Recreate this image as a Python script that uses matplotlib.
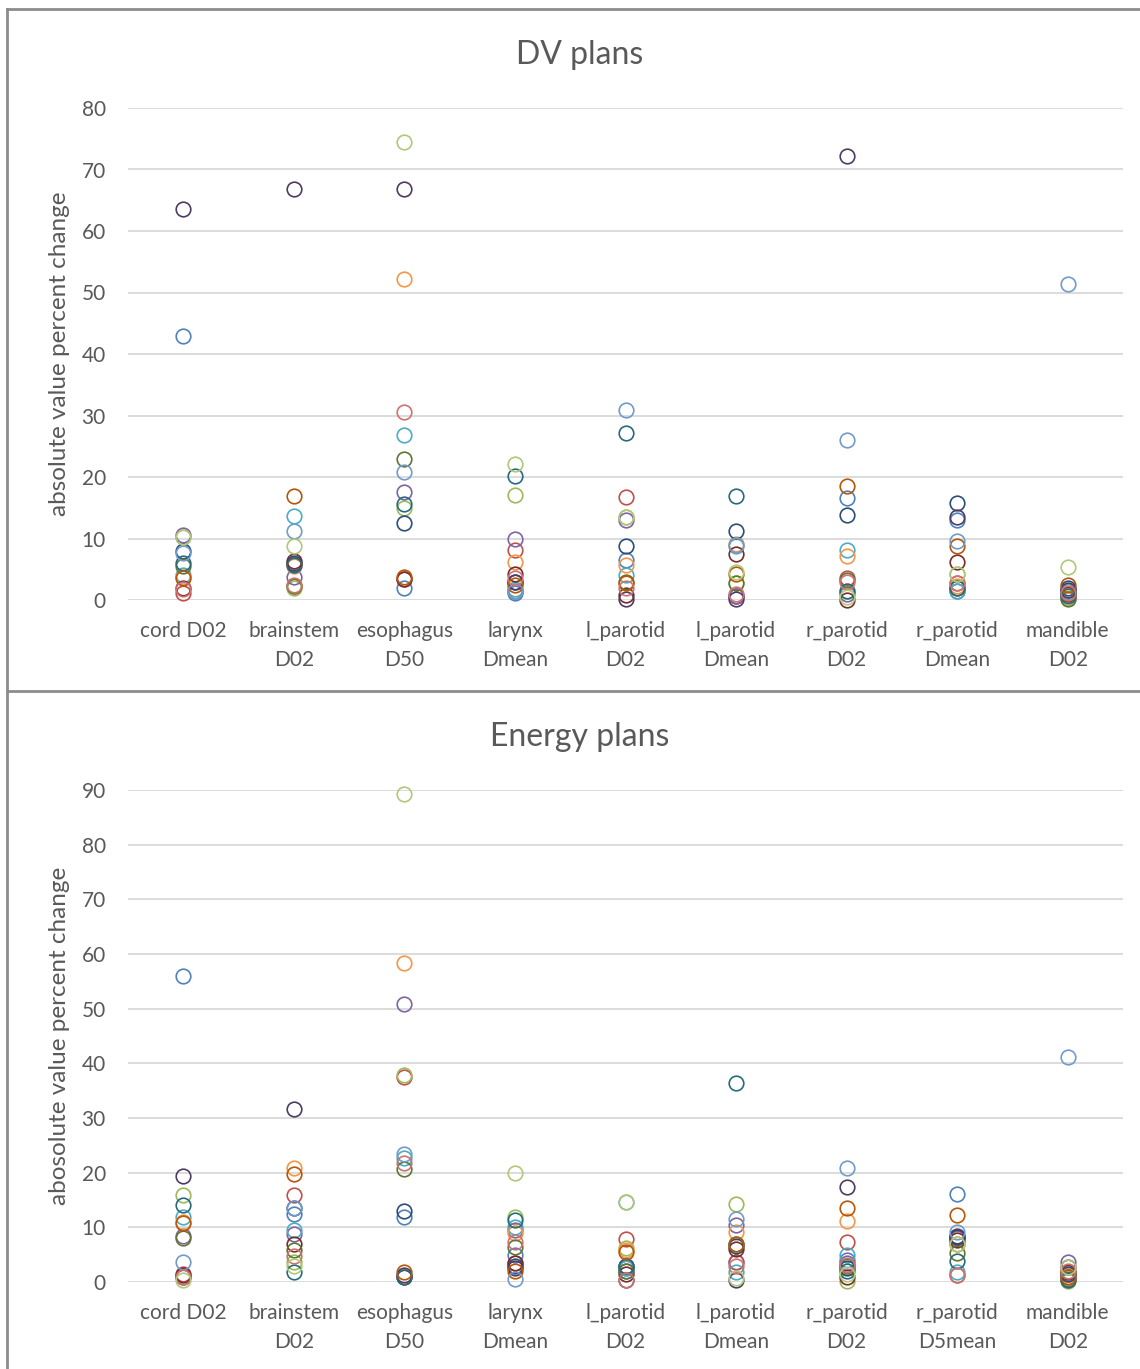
import numpy as np
import matplotlib.pyplot as plt
from matplotlib.lines import Line2D

plt.rcParams['font.family'] = ['Lato', 'DejaVu Sans']

# categories (x axis)
cats_dv = ["cord D02", "brainstem\nD02", "esophagus\nD50", "larynx\nDmean", "l_parotid\nD02",
           "l_parotid\nDmean", "r_parotid\nD02", "r_parotid\nDmean", "mandible\nD02"]
cats_en = ["cord D02", "brainstem\nD02", "esophagus\nD50", "larynx\nDmean", "l_parotid\nD02",
           "l_parotid\nDmean", "r_parotid\nD02", "r_parotid\nD5mean", "mandible\nD02"]

# Excel 2010 series colours
colors = ["#4F81BD", "#C0504D", "#9BBB59", "#8064A2", "#4BACC6", "#F79646",
          "#2C4D75", "#772C2A", "#5F7530", "#4D3B62", "#276A7C", "#B65708",
          "#729ACA", "#CD7371", "#AFC97A"]

# DV plans, one list per patient (series), values per category
dv = [
    [43.0, 5.8, 1.9, 1.2, 6.5, 0.6, 16.6, 13.0, 1.4],
    [1.1, 2.3, 3.4, 8.2, 16.7, 0.6, 3.5, 2.7, 1.4],
    [10.3, 2.0, 14.9, 17.0, 13.5, 2.7, 1.4, 4.3, 0.4],
    [10.6, 3.7, 17.6, 9.9, 13.0, 0.6, 1.0, 1.5, 0.8],
    [4.1, 13.7, 26.8, 1.8, 4.1, 8.8, 8.2, 1.4, 1.4],
    [3.7, 5.5, 52.2, 6.2, 5.7, 9.1, 7.2, 2.2, 0.8],
    [8.0, 6.0, 12.5, 3.0, 8.8, 11.3, 13.8, 15.8, 2.0],
    [2.0, 6.3, 3.4, 4.2, 0.8, 7.5, 0.0, 6.2, 1.0],
    [5.5, 2.2, 23.0, 1.5, 3.0, 2.7, 3.3, 2.0, 0.1],
    [63.6, 66.8, 66.9, 3.0, 0.1, 0.2, 72.2, 13.5, 1.6],
    [6.0, 5.7, 15.6, 20.1, 27.2, 16.9, 1.4, 2.0, 0.6],
    [3.5, 16.9, 3.7, 2.5, 2.7, 4.3, 18.6, 8.7, 2.4],
    [7.7, 11.3, 20.8, 1.5, 30.9, 9.0, 26.0, 9.6, 51.4],
    [1.8, 2.5, 30.6, 3.5, 2.0, 1.0, 3.0, 2.7, 1.2],
    [10.3, 8.8, 74.5, 22.1, 13.5, 4.6, 0.5, 4.3, 5.3],
]

# Energy plans
energy = [
    [56.0, 12.4, 11.9, 4.9, 2.0, 3.7, 4.0, 16.1, 1.0],
    [1.5, 15.9, 37.5, 3.4, 7.8, 3.7, 7.3, 1.2, 1.8],
    [15.9, 3.7, 37.9, 11.9, 6.2, 14.2, 0.2, 7.0, 0.1],
    [8.4, 8.7, 50.8, 9.5, 2.5, 10.4, 3.5, 8.0, 3.7],
    [11.9, 9.5, 22.6, 10.1, 2.5, 1.8, 4.9, 1.8, 1.5],
    [11.0, 20.9, 58.3, 9.0, 5.8, 9.2, 11.2, 7.0, 1.3],
    [0.9, 13.6, 13.0, 3.0, 3.0, 6.5, 2.5, 8.2, 1.5],
    [1.2, 6.9, 0.9, 3.4, 1.5, 6.1, 1.0, 7.6, 1.8],
    [8.0, 5.8, 20.6, 6.4, 2.0, 7.0, 3.0, 5.3, 0.5],
    [19.4, 31.6, 1.2, 2.5, 0.3, 0.3, 17.4, 8.5, 2.8],
    [14.1, 1.8, 0.9, 11.4, 3.0, 36.4, 2.1, 3.8, 0.3],
    [10.8, 19.7, 1.8, 2.1, 5.5, 7.0, 13.6, 12.3, 1.0],
    [3.6, 13.6, 23.5, 0.6, 14.7, 11.6, 20.8, 9.2, 41.2],
    [1.0, 4.7, 21.7, 7.3, 0.3, 3.0, 3.1, 1.2, 2.0],
    [0.3, 3.0, 89.2, 19.9, 14.7, 0.7, 1.5, 7.0, 2.7],
]

W, H = 1140, 1369
fig = plt.figure(figsize=(W / 100, H / 100), dpi=100)

def px_ax(x0, y0, x1, y1):
    return fig.add_axes([x0 / W, 1 - y1 / H, (x1 - x0) / W, (y1 - y0) / H])

def panel(ax, data, cats, ymax, title, ylabel, title_y):
    x = np.arange(len(cats))
    for i, s in enumerate(data):
        ax.plot(x, s, ls="none", marker="o", ms=10.5, mfc="none",
                mec=colors[i % len(colors)], mew=1.2, clip_on=False, zorder=3)
    ax.set_xlim(-0.5, len(cats) - 0.5)
    ax.set_ylim(0, ymax)
    ax.set_yticks(np.arange(0, ymax + 1, 10))
    ax.set_xticks(x)
    ax.set_xticklabels(cats, fontsize=15, color="#595959", linespacing=1.6)
    ax.tick_params(axis="y", labelsize=15, labelcolor="#595959", length=0, pad=16)
    ax.tick_params(axis="x", length=0, pad=15)
    ax.grid(axis="y", color="#d9d9d9", lw=1.3)
    ax.set_axisbelow(True)
    for sp in ax.spines.values():
        sp.set_visible(False)
    ax.set_ylabel(ylabel, fontsize=17.5, color="#595959", labelpad=8)
    fig.text(580 / W, 1 - title_y / H, title, ha="center", va="center",
             fontsize=23, color="#595959")

ax1 = px_ax(128, 108, 1123, 600)
panel(ax1, dv, cats_dv, 80, "DV plans", "absolute value percent change", 55)

ax2 = px_ax(128, 790, 1123, 1282)
panel(ax2, energy, cats_en, 90, "Energy plans", "abosolute value percent change", 737)

# chart borders
bc = "#8c8c8c"
fig.add_artist(Line2D([7 / W, 7 / W], [0, 1 - 9 / H], color=bc, lw=2))
fig.add_artist(Line2D([7 / W, 1], [1 - 9 / H, 1 - 9 / H], color=bc, lw=2))
fig.add_artist(Line2D([7 / W, 1], [1 - 691 / H, 1 - 691 / H], color=bc, lw=2))

fig.savefig("out.png", dpi=100, facecolor="white")
